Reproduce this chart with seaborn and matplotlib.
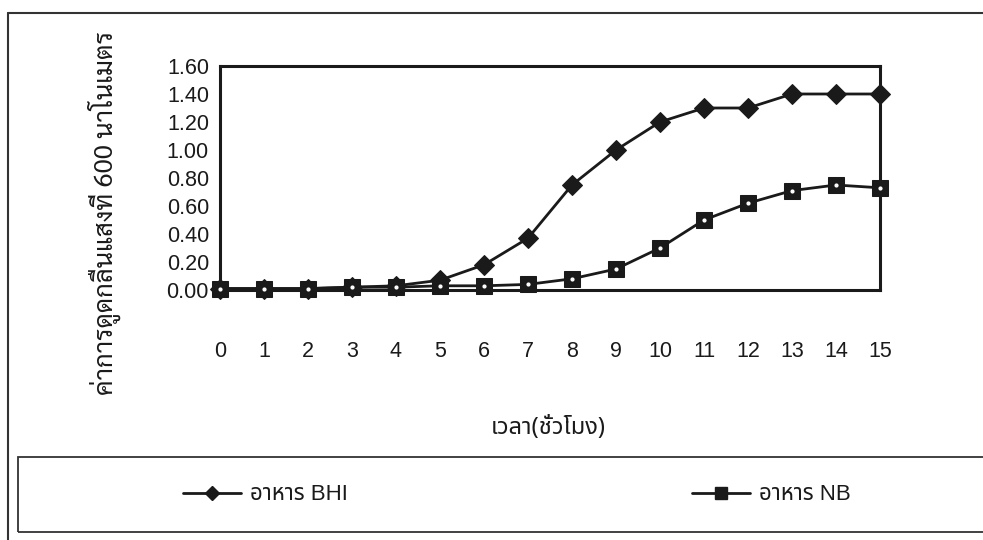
import matplotlib
matplotlib.use("Agg")
import numpy as np
import pandas as pd
import matplotlib.pyplot as plt
import seaborn as sns
from matplotlib.lines import Line2D
from matplotlib.patches import Rectangle

# --------------------------
# data
# --------------------------
hours = list(range(16))
bhi = [0.01, 0.01, 0.01, 0.02, 0.03, 0.07, 0.18, 0.37, 0.75, 1.00,
       1.20, 1.30, 1.30, 1.40, 1.40, 1.40]
nb = [0.01, 0.01, 0.01, 0.02, 0.02, 0.03, 0.03, 0.04, 0.08, 0.15,
      0.30, 0.50, 0.62, 0.71, 0.75, 0.73]
series_names = ["อาหาร BHI", "อาหาร NB"]
yticks = [0.0, 0.2, 0.4, 0.6, 0.8, 1.0, 1.2, 1.4, 1.6]
ylabel = "ค่าการดูดกลืนแสงที่ 600 นาโนเมตร"
xlabel = "เวลา(ชั่วโมง)"

df = pd.DataFrame({
    "hour": hours * 2,
    "value": bhi + nb,
    "series": [series_names[0]] * len(hours) + [series_names[1]] * len(hours),
})

sns.set_style("white")
plt.rcParams["font.family"] = ["Liberation Sans", "Noto Sans Thai"]

ink = "#1a1a1a"
fig = plt.figure(figsize=(9.83, 5.4), dpi=100)
ax = fig.add_axes([220 / 983, 1 - 290 / 540, 660 / 983, 224 / 540])

sns.lineplot(data=df, x="hour", y="value", hue="series", style="series",
             markers={series_names[0]: "D", series_names[1]: "s"},
             dashes=False, palette=[ink, ink], linewidth=2.0,
             markersize=10, markeredgecolor=ink, legend=False, ax=ax,
             clip_on=False, zorder=3)
ax.lines[1].set_markersize(11)
# little white dots inside the NB squares
ax.plot(hours, nb, linestyle="none", marker=".", color="white",
        markersize=4, clip_on=False, zorder=4)

ax.set_xlim(0, 15)
ax.set_ylim(0, 1.6)
ax.set_xticks(hours)
ax.set_yticks(yticks)
ax.set_yticklabels([f"{v:.2f}" for v in yticks])
ax.tick_params(axis="both", direction="inout", length=14, width=1.3,
               color=ink, labelsize=15.5, labelcolor=ink)
ax.tick_params(axis="x", pad=30)
ax.tick_params(axis="y", pad=1)
ax.set_xlabel("")
ax.set_ylabel("")
for s in ax.spines.values():
    s.set_visible(True)
    s.set_color(ink)
    s.set_linewidth(2.2)

fig.text(104 / 983, 1 - 213 / 540, ylabel, rotation=90, ha="center",
         va="center", fontsize=18.5, color=ink,
         family=["Sarabun", "Liberation Sans"])
fig.text(548 / 983, 1 - 428 / 540, xlabel, ha="center", va="center",
         fontsize=17, color=ink, family=["Noto Sans Thai", "Liberation Sans"])

# outer chart frame and legend box
fig.add_artist(Line2D([8 / 983, 1], [1 - 13 / 540, 1 - 13 / 540],
                      transform=fig.transFigure, color="#333333", lw=1.5))
fig.add_artist(Line2D([8 / 983, 8 / 983], [0, 1 - 13 / 540],
                      transform=fig.transFigure, color="#333333", lw=1.5))
fig.add_artist(Rectangle((18 / 983, 1 - 532 / 540), 1.0, 75 / 540,
                         transform=fig.transFigure, fill=False,
                         edgecolor="#333333", lw=1.3))

handles = [
    Line2D([], [], color=ink, lw=2.0, marker="D", markersize=7),
    Line2D([], [], color=ink, lw=2.0, marker="s", markersize=8),
]
leg = fig.legend(handles, series_names, loc="center left", ncol=2,
                 bbox_to_anchor=(163 / 983, 1 - 495 / 540), frameon=False,
                 fontsize=16, handlelength=2.6, handletextpad=0.4,
                 columnspacing=15.5)
for t in leg.get_texts():
    t.set_color(ink)

fig.savefig("out.png", dpi=100, facecolor="white")
